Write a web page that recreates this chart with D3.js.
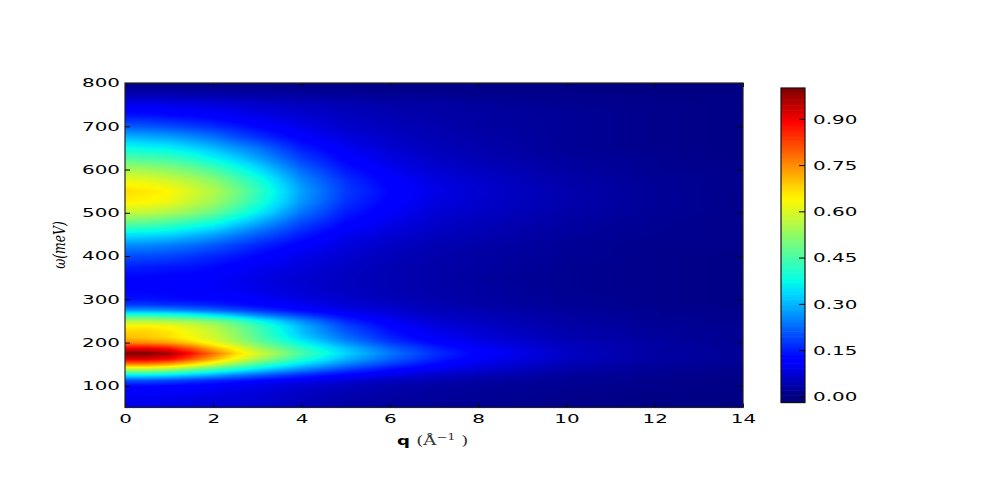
<!DOCTYPE html>
<html><head><meta charset="utf-8">
<script src="https://cdn.jsdelivr.net/npm/d3@7"></script>
<style>html,body{margin:0;padding:0;background:#fff;overflow:hidden}
svg{position:absolute;left:0;top:0}
text{font-family:"DejaVu Sans";fill:#000}</style></head>
<body>
<svg id="c" width="997" height="491"></svg>
<script>
const qValues=[0,0.5,1,1.5,2,2.5,3,4,5,6,7,8,10,12,14];
const omegaValues=[800,775,750,725,700,675,650,625,600,575,550,525,500,475,450,425,400,375,350,325,300,287,275,262,250,237,225,212,200,187,175,162,150,137,125,112,100,75,50];
const intensity=[
[.005,.005,.005,.005,.005,.005,.005,.005,.005,.005,.005,.005,0,0,0],
[.04,.04,.04,.035,.035,.03,.03,.025,.02,.015,.015,.01,.01,.005,.005],
[.095,.095,.09,.085,.08,.075,.065,.055,.045,.035,.03,.025,.015,.01,.005],
[.14,.14,.13,.125,.115,.10,.09,.07,.055,.045,.035,.03,.02,.01,.005],
[.21,.205,.195,.18,.165,.145,.125,.09,.065,.05,.04,.03,.02,.01,.005],
[.30,.29,.28,.26,.235,.20,.17,.115,.08,.06,.045,.035,.02,.01,.005],
[.38,.37,.36,.335,.305,.27,.235,.15,.10,.07,.05,.04,.02,.01,.005],
[.46,.45,.44,.41,.37,.33,.285,.185,.12,.085,.06,.045,.025,.015,.005],
[.55,.54,.52,.49,.45,.40,.345,.225,.145,.10,.07,.055,.03,.015,.01],
[.62,.61,.59,.56,.52,.46,.40,.26,.17,.115,.085,.065,.035,.02,.01],
[.67,.66,.64,.60,.56,.50,.43,.28,.18,.125,.09,.07,.04,.02,.01],
[.65,.64,.62,.58,.54,.48,.41,.27,.17,.12,.085,.065,.04,.02,.01],
[.58,.57,.55,.52,.48,.42,.36,.235,.15,.105,.075,.06,.035,.02,.01],
[.47,.46,.44,.41,.38,.33,.285,.19,.125,.09,.065,.05,.03,.015,.01],
[.35,.345,.335,.31,.285,.25,.215,.15,.10,.075,.055,.045,.025,.015,.01],
[.26,.255,.245,.23,.21,.185,.16,.115,.08,.06,.045,.035,.02,.01,.01],
[.20,.195,.19,.175,.16,.145,.125,.09,.07,.05,.04,.03,.02,.01,.005],
[.155,.15,.145,.14,.13,.115,.10,.08,.06,.045,.035,.03,.015,.01,.005],
[.125,.125,.12,.115,.11,.10,.09,.07,.055,.045,.035,.025,.015,.01,.005],
[.12,.12,.115,.11,.105,.10,.09,.07,.055,.045,.035,.03,.015,.01,.005],
[.14,.14,.135,.13,.125,.12,.11,.085,.065,.05,.04,.03,.02,.01,.005],
[.18,.18,.17,.165,.155,.14,.125,.10,.075,.06,.045,.035,.02,.01,.005],
[.27,.27,.26,.24,.22,.195,.17,.125,.09,.07,.05,.04,.025,.015,.01],
[.43,.43,.42,.40,.36,.32,.27,.19,.125,.085,.06,.05,.03,.015,.01],
[.56,.56,.55,.53,.50,.45,.38,.26,.16,.105,.07,.055,.03,.02,.01],
[.65,.65,.63,.60,.56,.50,.44,.30,.19,.125,.085,.065,.035,.02,.015],
[.68,.68,.66,.62,.58,.52,.45,.31,.21,.14,.095,.07,.04,.025,.015],
[.70,.69,.67,.63,.59,.53,.46,.33,.23,.155,.105,.08,.04,.025,.015],
[.76,.75,.73,.68,.62,.56,.49,.37,.265,.18,.125,.09,.05,.03,.015],
[.90,.90,.87,.80,.71,.63,.55,.42,.31,.22,.155,.11,.055,.03,.02],
[1.0,1.0,.97,.88,.78,.68,.60,.45,.33,.24,.17,.12,.06,.03,.02],
[.92,.92,.89,.81,.72,.63,.55,.41,.30,.22,.155,.11,.055,.03,.02],
[.76,.76,.73,.67,.60,.52,.45,.34,.25,.18,.13,.09,.045,.025,.015],
[.55,.55,.53,.48,.43,.38,.33,.25,.18,.13,.095,.07,.035,.02,.01],
[.36,.36,.345,.32,.29,.25,.22,.165,.12,.09,.065,.05,.025,.015,.01],
[.20,.20,.19,.175,.16,.145,.125,.10,.075,.055,.045,.03,.02,.01,.005],
[.13,.13,.125,.12,.11,.10,.09,.07,.055,.04,.03,.025,.015,.01,.005],
[.10,.10,.095,.09,.085,.08,.075,.055,.04,.03,.025,.02,.01,.005,.005],
[.09,.09,.085,.08,.075,.07,.065,.05,.035,.025,.02,.015,.01,.005,.005]];
const qTicks=[0,2,4,6,8,10,12,14];
const omegaTicks=[100,200,300,400,500,600,700,800];
const colorTicks=[0,0.15,0.30,0.45,0.60,0.75,0.90];
const jetStops=[[0,0,0,.5],[.11,0,0,1],[.125,0,0,1],[.34,0,.875,1],[.35,0,.9,.97],[.375,.0,1,.91],[.64,1,.97,0],[.66,1,.91,0],[.89,1,0,0],[.91,.91,0,0],[1,.5,0,0]];

const stretch=1.66;
const svg=d3.select('#c');
const x=d3.scaleLinear().domain([0,14]).range([125,743]);
const y=d3.scaleLinear().domain([50,800]).range([407.5,83]);
const jet=d3.scaleLinear().domain(jetStops.map(s=>s[0])).range(jetStops.map(s=>d3.rgb(s[1]*255,s[2]*255,s[3]*255))).clamp(true);
const color=v=>jet(Math.max(0,v));

// heat map: value blended per pixel across the read grid
const W=x.range()[1]-x.range()[0],Y0=y.range()[1],H=Math.ceil(y.range()[0]-Y0);
const cv=document.createElement('canvas');cv.width=W;cv.height=H;
const ctx=cv.getContext('2d'),img=ctx.createImageData(W,H);
const om=omegaValues.slice().reverse();
const mat=intensity.slice().reverse();
const bis=(a,v)=>{let i=d3.bisectRight(a,v)-1;i=Math.max(0,Math.min(a.length-2,i));return[i,Math.min(1,Math.max(0,(v-a[i])/(a[i+1]-a[i])))]};
for(let j=0;j<H;j++){const w=y.invert(Y0+j+.5),[r,tr]=bis(om,w);
 for(let i=0;i<W;i++){const q=x.invert(x.range()[0]+i+.5),[c,tc]=bis(qValues,q);
  const v=(1-tr)*((1-tc)*mat[r][c]+tc*mat[r][c+1])+tr*((1-tc)*mat[r+1][c]+tc*mat[r+1][c+1]);
  const col=d3.rgb(color(v)),k=4*(j*W+i);
  img.data[k]=col.r;img.data[k+1]=col.g;img.data[k+2]=col.b;img.data[k+3]=255;}}
ctx.putImageData(img,0,0);
svg.append('image').attr('x',x.range()[0]).attr('y',Y0).attr('width',W).attr('height',H).attr('href',cv.toDataURL());

function styleAxis(g,tx,ty,anchor){
 g.select('.domain').remove();
 g.selectAll('line').attr('stroke','#000').attr('stroke-width',1);
 g.selectAll('text').attr('x',null).attr('y',null).attr('dy','0.36em').attr('text-anchor',anchor)
  .attr('font-size',12).attr('transform',`translate(${tx},${ty}) scale(${stretch},1)`);
}
const fmt=d3.format('d');
svg.append('g').attr('transform',`translate(0,${y.range()[0]})`)
 .call(d3.axisBottom(x).tickValues(qTicks).tickFormat(fmt).tickSizeInner(-4).tickSizeOuter(0))
 .call(g=>styleAxis(g,0,11,'middle'));
svg.append('g').attr('transform',`translate(0,83)`)
 .call(d3.axisTop(x).tickValues(qTicks).tickFormat('').tickSizeInner(-4).tickSizeOuter(0))
 .call(g=>g.select('.domain').remove()).call(g=>g.selectAll('line').attr('stroke','#000'));
svg.append('g').attr('transform',`translate(125,0)`)
 .call(d3.axisLeft(y).tickValues(omegaTicks).tickFormat(fmt).tickSizeInner(-5).tickSizeOuter(0))
 .call(g=>styleAxis(g,-5,-0.5,'end'));
svg.append('g').attr('transform',`translate(743,0)`)
 .call(d3.axisRight(y).tickValues(omegaTicks).tickFormat('').tickSizeInner(-5).tickSizeOuter(0))
 .call(g=>g.select('.domain').remove()).call(g=>g.selectAll('line').attr('stroke','#000'));
svg.append('rect').attr('x',125).attr('y',83).attr('width',618).attr('height',324.5).attr('fill','none').attr('stroke','#222').attr('stroke-width',1.2);

// labels
svg.append('text').attr('transform','translate(60,245) rotate(-90) scale(0.95,1.35)')
 .attr('text-anchor','middle').attr('dy','0.3em').attr('font-size',13).attr('font-style','italic')
 .style('font-family','"DejaVu Serif"').attr('fill','#222').text('ω(meV)');
const xl=svg.append('text').attr('transform','translate(397,445) scale(1.45,1)').attr('font-size',12.5);
xl.append('tspan').attr('font-weight','bold').text('q ');
xl.append('tspan').style('font-family','"DejaVu Serif"').attr('fill','#333').attr('font-size',12.5).text('(Å');
xl.append('tspan').style('font-family','"DejaVu Serif"').attr('fill','#333').attr('font-size',9).attr('dy',-5.5).text('−1');
xl.append('tspan').style('font-family','"DejaVu Serif"').attr('fill','#333').attr('font-size',12.5).attr('dy',5.5).text(' )');

// colour bar
const cb=d3.scaleLinear().domain([-0.02,1]).range([402.5,88]);
const levels=d3.range(128).map(i=>-0.02+1.02*i/128);
svg.append('g').selectAll('rect').data(levels).join('rect')
 .attr('x',781).attr('width',24)
 .attr('y',d=>cb(d+1.02/128)).attr('height',d=>cb(d)-cb(d+1.02/128)+.6)
 .attr('fill',d=>color(d+0.51/128));
svg.append('g').attr('transform','translate(805,0)')
 .call(d3.axisRight(cb).tickValues(colorTicks).tickFormat(d3.format('.2f')).tickSizeInner(-6).tickSizeOuter(0))
 .call(g=>styleAxis(g,8,0,'start'));
svg.append('rect').attr('x',781).attr('y',88).attr('width',24).attr('height',314.5).attr('fill','none').attr('stroke','#111').attr('stroke-width',1.2);
</script></body></html>
